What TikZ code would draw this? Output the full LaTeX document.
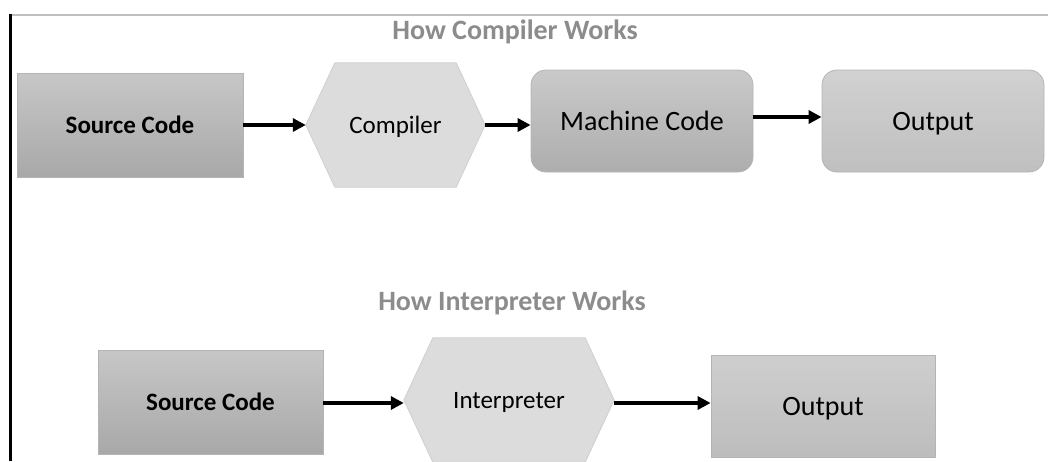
\documentclass[tikz,border=0pt]{standalone}
\usepackage{fontspec}
\setmainfont{Carlito}
\usetikzlibrary{arrows.meta,backgrounds}
\definecolor{titlegray}{HTML}{8C8C8C}
\definecolor{edgegray}{HTML}{B4B4B4}
\definecolor{hexgray}{HTML}{DCDCDC}
\definecolor{hexedge}{HTML}{CFCFCF}
\begin{document}
\begin{tikzpicture}[x=1pt,y=-1pt,
  boxnode/.style={draw=edgegray, line width=0.8pt, inner sep=0pt, align=center, text=black},
  darkbox/.style={boxnode, top color=black!22, bottom color=black!34},
  mcbox/.style={boxnode, rounded corners=15pt, top color=black!21, bottom color=black!32},
  outbox/.style={boxnode, rounded corners=15pt, top color=black!18, bottom color=black!25},
  outsq/.style={boxnode, top color=black!19, bottom color=black!26},
  hexnode/.style={inner sep=0pt, align=center, text=black},
  hexfill/.style={fill=hexgray, draw=hexedge, line width=0.8pt},
  titlenode/.style={text=titlegray, font=\bfseries\fontsize{28}{32}\selectfont},
  arr/.style={line width=3.5pt, -{Triangle[length=13pt,width=13pt]}}
]
\useasboundingbox (0,0) rectangle (1048,461);
% frame lines
\draw[black!25, line width=1.3pt] (12,15) -- (1048,15);
\draw[black, line width=2.6pt] (10.5,14) -- (10.5,461);

% titles
\node[titlenode] (t1) at (515,32) {How Compiler Works};
\node[titlenode] (t2) at (512,303) {How Interpreter Works};

% top row
\node[darkbox, minimum width=226pt, minimum height=104pt, font=\bfseries\fontsize{25}{30}\selectfont] (src1) at (130,125) {Source Code};
\node[hexnode, minimum width=179pt, minimum height=124pt, text depth=0pt, font=\fontsize{25}{30}\selectfont] (comp) at (395.5,125) {Compiler};
\node[mcbox, minimum width=222pt, minimum height=102pt, font=\fontsize{28}{32}\selectfont] (mc) at (642,121) {Machine Code};
\node[outbox, minimum width=222pt, minimum height=102pt, text depth=0pt, font=\fontsize{28}{32}\selectfont] (out1) at (933,121) {Output};

% bottom row
\node[darkbox, minimum width=225pt, minimum height=104pt, font=\bfseries\fontsize{25}{30}\selectfont] (src2) at (210.5,402) {Source Code};
\node[hexnode, minimum width=210pt, minimum height=124pt, text depth=0pt, font=\fontsize{25}{30}\selectfont] (interp) at (509,400) {Interpreter};
\node[outsq, minimum width=224pt, minimum height=102pt, text depth=0pt, font=\fontsize{28}{32}\selectfont] (out2) at (823,406) {Output};

\begin{pgfonlayer}{background}
\path[hexfill] (comp.west) -- ([xshift=29pt]comp.north west) -- ([xshift=-29pt]comp.north east) -- (comp.east) -- ([xshift=-29pt]comp.south east) -- ([xshift=29pt]comp.south west) -- cycle;
\path[hexfill] (interp.west) -- ([xshift=29pt]interp.north west) -- ([xshift=-29pt]interp.north east) -- (interp.east) -- ([xshift=-29pt]interp.south east) -- ([xshift=29pt]interp.south west) -- cycle;
\end{pgfonlayer}

% connectors
\draw[arr] (src1.east) -- (comp.west);
\draw[arr] (comp.east) -- (comp.east -| mc.west);
\draw[arr] ([yshift=4pt]mc.east) -- ([yshift=4pt]out1.west);
\draw[arr] ([yshift=-1pt]src2.east) -- ([yshift=-1pt]src2.east -| interp.west);
\draw[arr] ([yshift=-3pt]interp.east) -- ([yshift=-3pt]interp.east -| out2.west);
\end{tikzpicture}
\end{document}
